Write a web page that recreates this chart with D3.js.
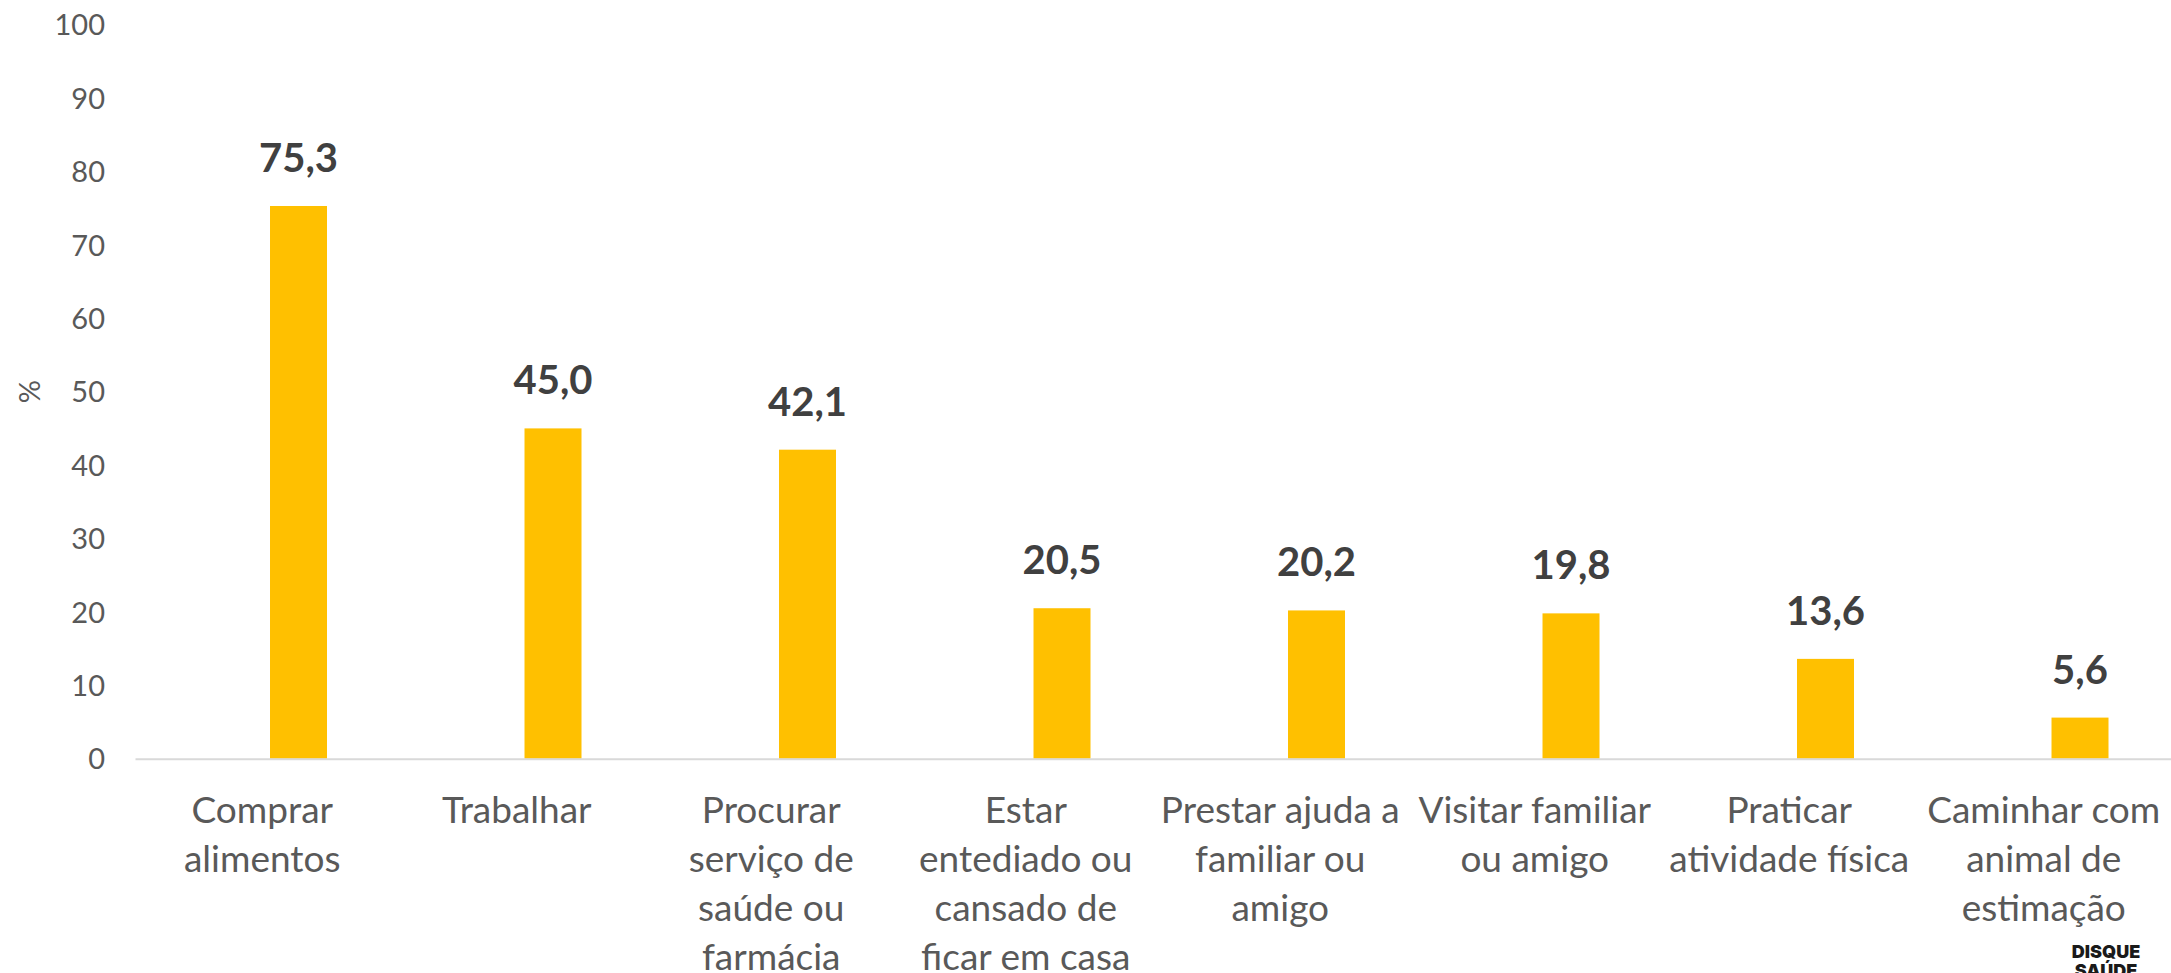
<!DOCTYPE html>
<html>
<head>
<meta charset="utf-8">
<script src="https://cdn.jsdelivr.net/npm/d3@7"></script>
<style>
  html, body { margin: 0; padding: 0; background: #fff; }
  svg { display: block; }
  text { font-family: Lato, "Open Sans", sans-serif; }
</style>
</head>
<body>
<svg id="chart" width="2171" height="973"></svg>
<script>
// ---- data ----
const categories = [
  "Comprar alimentos",
  "Trabalhar",
  "Procurar serviço de saúde ou farmácia",
  "Estar entediado ou cansado de ficar em casa",
  "Prestar ajuda a familiar ou amigo",
  "Visitar familiar ou amigo",
  "Praticar atividade física",
  "Caminhar com animal de estimação"
];
const categoryLines = [
  ["Comprar", "alimentos"],
  ["Trabalhar"],
  ["Procurar", "serviço de", "saúde ou", "farmácia"],
  ["Estar", "entediado ou", "cansado de", "ficar em casa"],
  ["Prestar ajuda a", "familiar ou", "amigo"],
  ["Visitar familiar", "ou amigo"],
  ["Praticar", "atividade física"],
  ["Caminhar com", "animal de", "estimação"]
];
const values = [75.3, 45.0, 42.1, 20.5, 20.2, 19.8, 13.6, 5.6];
const yTicks = [0, 10, 20, 30, 40, 50, 60, 70, 80, 90, 100];
const yTitle = "%";

// ---- layout ----
const plot = { left: 135, right: 2171, top: 24.7, bottom: 758.7 };

const svg = d3.select("#chart");

const x = d3.scaleBand()
  .domain(categories)
  .range([plot.left, plot.right])
  .paddingInner(0).paddingOuter(0);

// each category holds two slots (an empty one and the data series); bar sits in the second
const slot = d3.scaleBand()
  .domain(["empty", "valor"])
  .range([0, x.bandwidth()])
  .paddingInner(0.214)
  .paddingOuter(0.862);

const y = d3.scaleLinear().domain([0, 100]).range([plot.bottom, plot.top]);

// y tick labels
const yAxis = d3.axisLeft(y).tickValues(yTicks).tickSize(0).tickPadding(0).tickFormat(d3.format("d"));
const gy = svg.append("g").attr("transform", `translate(105,0)`).call(yAxis);
gy.select(".domain").remove();
gy.selectAll("text")
  .attr("fill", "#595959")
  .style("font-size", "29px")
  .style("font-family", "Lato, sans-serif")
  .attr("dy", "0.35em");

// y title
svg.append("text")
  .attr("transform", `translate(30,${y(50)}) rotate(-90)`)
  .attr("text-anchor", "middle")
  .attr("dy", "0.35em")
  .attr("fill", "#595959")
  .style("font-size", "29px")
  .text(yTitle);

// bars
const bw = slot.bandwidth();
svg.append("g").selectAll("rect")
  .data(values)
  .join("rect")
  .attr("x", (d, i) => x(categories[i]) + slot("valor"))
  .attr("width", bw)
  .attr("y", d => y(d))
  .attr("height", d => y(0) - y(d))
  .attr("fill", "#FFC000");

// baseline axis
const xAxis = d3.axisBottom(x).tickSize(0).tickFormat("");
const gx = svg.append("g").attr("transform", `translate(0,${y(0)})`).call(xAxis);
gx.select(".domain").attr("stroke", "#D9D9D9").attr("stroke-width", 2);

// value labels
svg.append("g").selectAll("text")
  .data(values)
  .join("text")
  .attr("x", (d, i) => x(categories[i]) + slot("valor") + bw / 2)
  .attr("y", d => y(d) - 34)
  .attr("text-anchor", "middle")
  .attr("fill", "#404040")
  .style("font-size", "40px")
  .style("font-weight", "bold")
  .text(d => d3.format(".1f")(d).replace(".", ","));

// category labels
const cl = svg.append("g").selectAll("text")
  .data(categories)
  .join("text")
  .attr("x", d => x(d) + x.bandwidth() / 2)
  .attr("y", 823)
  .attr("text-anchor", "middle")
  .attr("fill", "#595959")
  .style("font-size", "37px");
cl.each(function(d, i) {
  d3.select(this).selectAll("tspan")
    .data(categoryLines[i])
    .join("tspan")
    .attr("x", x(d) + x.bandwidth() / 2)
    .attr("dy", (t, j) => j === 0 ? 0 : 49)
    .text(t => t);
});

// logo text
const logo = svg.append("g").attr("transform", "translate(2106,0)");
logo.append("text").attr("y", 958).attr("text-anchor", "middle")
  .attr("fill", "#1a1a1a").style("font-size", "18px").style("font-weight", "900")
  .style("font-family", "Inter, sans-serif").text("DISQUE");
logo.append("text").attr("y", 977).attr("text-anchor", "middle")
  .attr("fill", "#1a1a1a").style("font-size", "18px").style("font-weight", "900")
  .style("font-family", "Inter, sans-serif").text("SAÚDE");
</script>
</body>
</html>
